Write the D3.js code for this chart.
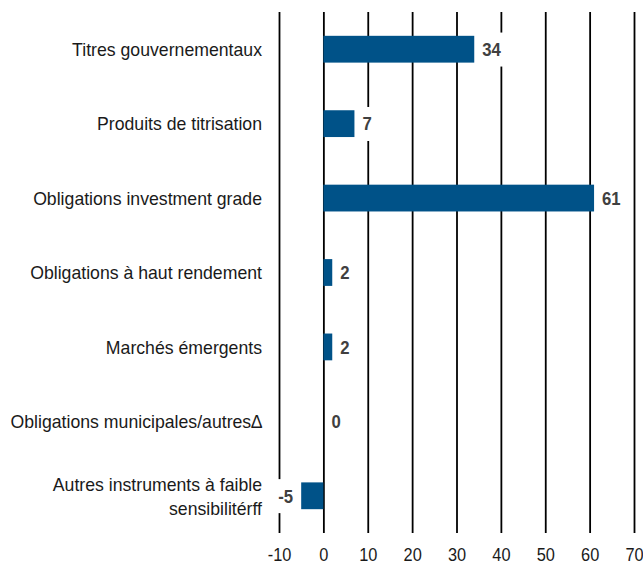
<!DOCTYPE html>
<html>
<head>
<meta charset="utf-8">
<script src="https://cdn.jsdelivr.net/npm/d3@7"></script>
<style>
  body { margin: 0; background: #fff; }
  svg text { font-family: "Liberation Sans", Arial, sans-serif; }
</style>
</head>
<body>
<svg id="chart" width="643" height="567"></svg>
<script>
// categories and values
const categories = [
  'Titres gouvernementaux',
  'Produits de titrisation',
  'Obligations investment grade',
  'Obligations à haut rendement',
  'Marchés émergents',
  'Obligations municipales/autres∆',
  'Autres instruments à faible|sensibilitérff'
];
const values = [34, 7, 61, 2, 2, 0, -5];
const xTicks = [-10, 0, 10, 20, 30, 40, 50, 60, 70];

const data = categories.map((c, i) => ({ name: c, value: values[i] }));

const svg = d3.select('#chart');
const margin = { top: 12, bottom: 34, left: 279, right: 9 };
const width = +svg.attr('width');
const height = +svg.attr('height');

// squeeze a text horizontally to mimic the condensed face of the reference
function squeeze(sel, k) {
  sel.each(function () {
    const len = this.getComputedTextLength();
    d3.select(this)
      .attr('textLength', len * k)
      .attr('lengthAdjust', 'spacingAndGlyphs');
  });
}

const xScale = d3.scaleLinear()
  .domain([-10, 70])
  .range([margin.left, width - margin.right]);

const yScale = d3.scaleBand()
  .domain(categories)
  .range([margin.top, height - margin.bottom])
  .paddingInner(0.64)
  .paddingOuter(0.32);

// vertical gridlines + tick labels
const xAxis = d3.axisBottom(xScale)
  .tickValues(xTicks)
  .tickSizeInner(-(height - margin.bottom - margin.top))
  .tickSizeOuter(0)
  .tickPadding(15)
  .tickFormat(d3.format('d'));

const xAxisG = svg.append('g')
  .attr('transform', `translate(0,${height - margin.bottom})`)
  .call(xAxis);
xAxisG.select('.domain').remove();
xAxisG.selectAll('line').attr('stroke', '#000').attr('stroke-width', 1.8);
xAxisG.selectAll('text')
  .attr('font-size', 19)
  .attr('fill', '#1a1a1a')
  .text(d => d < 0 ? '-' + Math.abs(d) : d)
  .call(squeeze, 0.86);

// bars
svg.append('g')
  .selectAll('rect')
  .data(data)
  .join('rect')
  .attr('x', d => xScale(Math.min(0, d.value)))
  .attr('y', d => yScale(d.name))
  .attr('width', d => Math.abs(xScale(d.value) - xScale(0)))
  .attr('height', yScale.bandwidth())
  .attr('fill', '#005288');

// value labels with white boxes
const labels = svg.append('g')
  .selectAll('g')
  .data(data)
  .join('g');

labels.append('text')
  .attr('x', d => d.value < 0 ? xScale(d.value) - 8 : xScale(d.value) + 8)
  .attr('y', d => yScale(d.name) + yScale.bandwidth() / 2)
  .attr('dy', '0.36em')
  .attr('text-anchor', d => d.value < 0 ? 'end' : 'start')
  .attr('font-size', 19)
  .attr('font-weight', 'bold')
  .attr('fill', '#404040')
  .text(d => d.value)
  .call(squeeze, 0.88);

labels.each(function () {
  const t = d3.select(this).select('text');
  const bb = t.node().getBBox();
  d3.select(this).insert('rect', 'text')
    .attr('x', bb.x - 3)
    .attr('y', bb.y + bb.height / 2 - 17)
    .attr('width', bb.width + 6)
    .attr('height', 34)
    .attr('fill', '#fff');
});

// category labels, one text per line
const lineH = 24;
const catG = svg.append('g');
data.forEach(d => {
  const lines = d.name.split('|');
  const cy = yScale(d.name) + yScale.bandwidth() / 2;
  lines.forEach((line, i) => {
    catG.append('text')
      .attr('x', margin.left - 17)
      .attr('y', cy + (i - (lines.length - 1) / 2) * lineH)
      .attr('dy', '0.36em')
      .attr('text-anchor', 'end')
      .attr('font-size', 19)
      .attr('fill', '#1a1a1a')
      .text(line);
  });
});
catG.selectAll('text').call(squeeze, 0.93);
</script>
</body>
</html>
